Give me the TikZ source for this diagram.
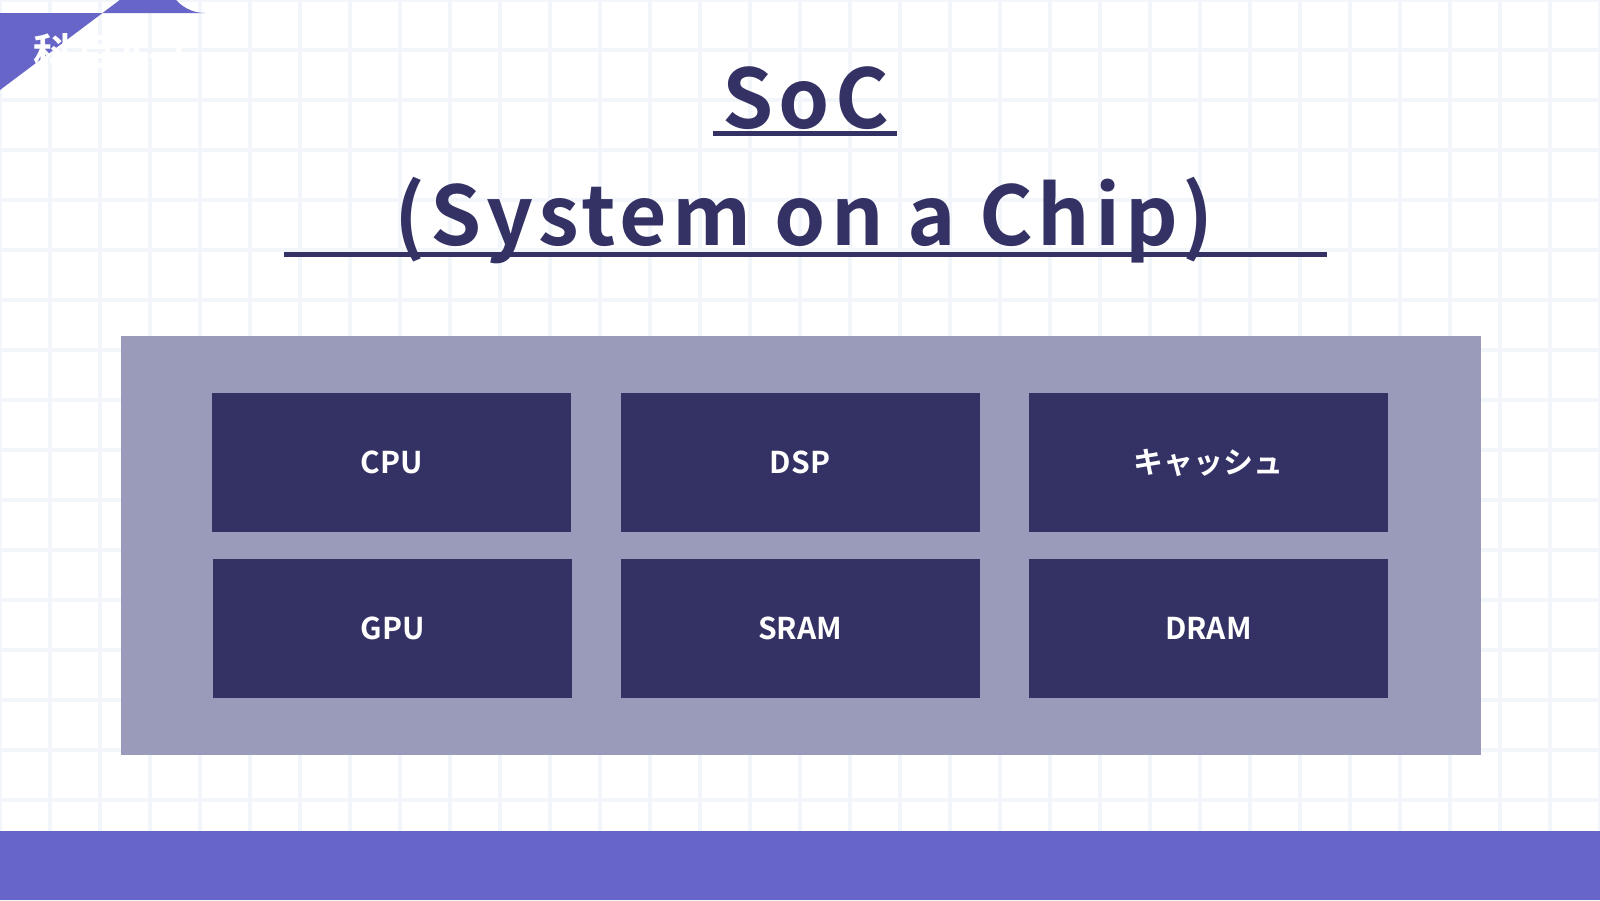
\documentclass[tikz,border=0pt]{standalone}
\usepackage{fontspec}
\setmainfont{Noto Sans CJK JP}[BoldFont={* Bold}]
\newfontfamily\jpb{Noto Sans CJK JP Bold}
\definecolor{navy}{HTML}{343264}
\definecolor{chip}{HTML}{9A9ABB}
\definecolor{accent}{HTML}{6766C8}
\definecolor{gridc}{HTML}{F2F6FA}
\begin{document}
\begin{tikzpicture}[x=1pt,y=-1pt,
  blk/.style={fill=navy,draw=none,minimum width=359pt,minimum height=139pt,text=white,font=\jpb\fontsize{30}{36}\selectfont},
  ttl/.style={text=navy,font=\jpb\addfontfeatures{LetterSpace=6}\fontsize{82}{96}\selectfont,inner sep=0}]
\useasboundingbox (0,0) rectangle (1600,900);
\fill[white] (0,0) rectangle (1600,900);
\foreach \i in {0,...,32} \fill[gridc] (\i*50-2,0) rectangle (\i*50+2,900);
\foreach \j in {0,...,18} \fill[gridc] (0,\j*50-2) rectangle (1600,\j*50+2);
\fill[accent] (0,831) rectangle (1600,900);
\fill[accent] (0,13) -- (205,13) arc[start angle=-90,end angle=90,radius=-38.5] -- (0,90) -- cycle;
\node[text=white,font=\jpb\addfontfeatures{LetterSpace=8}\fontsize{40}{48}\selectfont,anchor=center] (badge) at (112,52) {科目A-1};
\fill[navy] (713,131) rectangle (897,136);
\fill[navy] (284,252) rectangle (1327,257);
\node[ttl,anchor=base] (t1) at (806,128) {SoC};
\node[ttl,anchor=base] (t2) at (804,245) {(System on a Chip)};
\fill[chip] (121,336) rectangle (1481,755);
\node[blk] (cpu) at (391.5,462.5) {CPU};
\node[blk] (dsp) at (800,462.5) {DSP};
\node[blk] (cache) at (1208.5,462.5) {キャッシュ};
\node[blk] (gpu) at (392.5,628) {GPU};
\node[blk] (sram) at (800,628) {SRAM};
\node[blk] (dram) at (1208.5,628) {DRAM};
\end{tikzpicture}
\end{document}
